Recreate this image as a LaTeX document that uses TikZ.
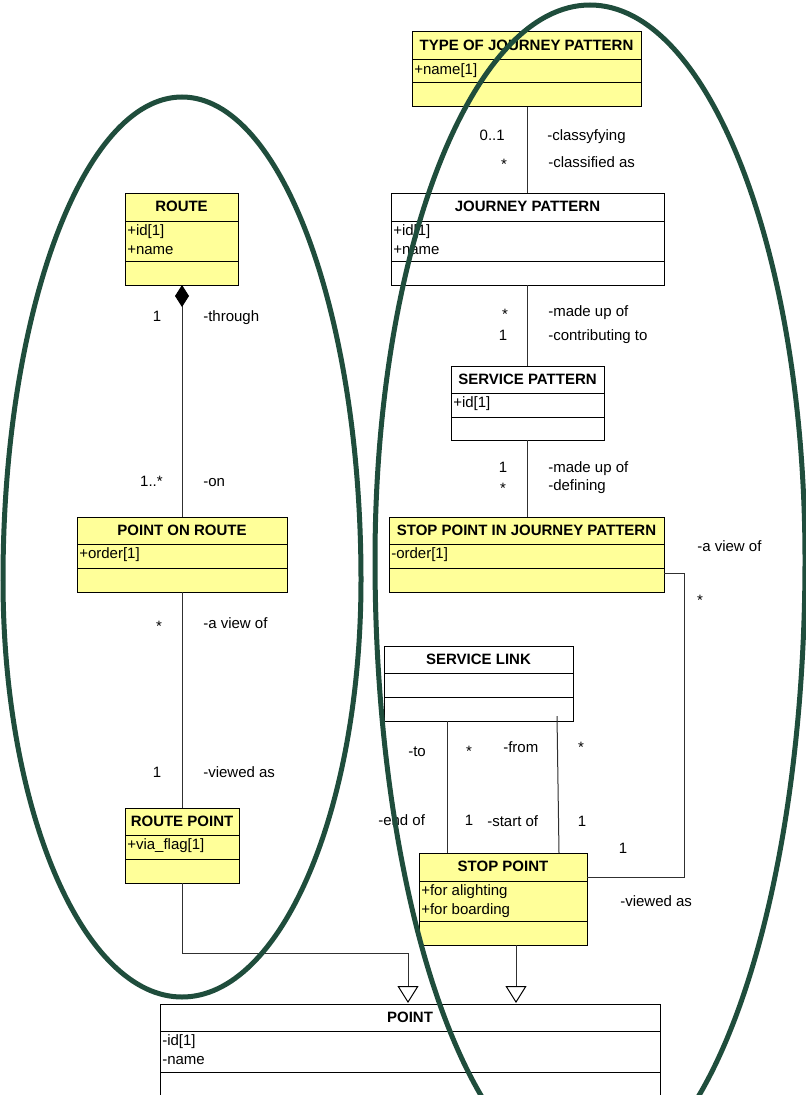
\documentclass[tikz,border=0pt]{standalone}
\usepackage{fontspec}
\setmainfont{Liberation Sans}
\usetikzlibrary{arrows.meta}
\definecolor{umlyellow}{HTML}{FFFF99}
\definecolor{ellgreen}{HTML}{1F4D3C}
\definecolor{linegray}{HTML}{303030}
\tikzset{
  clsbox/.style={draw=black, line width=0.75pt, inner sep=0pt, outer sep=0pt, anchor=north west},
  clsline/.style={draw=black, line width=0.75pt},
  clstitle/.style={font=\fontsize{11.25}{13.5}\selectfont\bfseries, inner sep=0pt, anchor=base},
  clsattr/.style={font=\fontsize{11.25}{13.5}\selectfont, inner sep=0pt, anchor=base west},
  lbl/.style={font=\fontsize{11.25}{13.5}\selectfont, inner sep=0pt, text height=8.2pt, text depth=2.4pt},
  conn/.style={draw=linegray, line width=0.75pt},
  gentip/.style={-{Triangle[open, length=12.75pt, width=15.75pt, color=black]}},
  comptip/.style={{Diamond[length=16.5pt, width=10.5pt, color=black]}-},
  blob/.style={draw=ellgreen, line width=3.75pt}
}
% #1 name, #2 x1, #3 y1, #4 x2, #5 y2, #6 header line y, #7 attribute line y, #8 fill, #9 title
\newcommand{\umlclass}[9]{%
  \node[clsbox, fill=#8, minimum width={(#4-#2)*0.75pt}, minimum height={(#5-#3)*0.75pt}] (#1) at (#2,#3) {};
  \draw[clsline] (#2,#6) -- (#4,#6) (#2,#7) -- (#4,#7);
  \node[clstitle] (#1-title) at ({(#2+#4)/2},{(#3+#6)/2+4.5}) {#9};
}
\newcommand{\umlattr}[4]{\node[clsattr] (#1) at (#2,#3) {#4};}
\begin{document}
\begin{tikzpicture}[x=0.75pt, y=-0.75pt]
\useasboundingbox (0,0) rectangle (806,1095);
\clip (0,0) rectangle (806,1095);
\fill[white] (0,0) rectangle (806,1095);

% classes
\umlclass{tjp}{412}{32}{641}{107}{60}{83}{umlyellow}{TYPE OF JOURNEY PATTERN}
\umlattr{tjp-a1}{414}{74.5}{+name[1]}

\umlclass{jp}{391}{193}{664}{285}{221}{261}{white}{JOURNEY PATTERN}
\umlattr{jp-a1}{393}{235.5}{+id[1]}
\umlattr{jp-a2}{393}{254}{+name}

\umlclass{route}{125}{193}{238}{285}{221}{261}{umlyellow}{ROUTE}
\umlattr{route-a1}{127}{235.5}{+id[1]}
\umlattr{route-a2}{127}{254}{+name}

\umlclass{sp}{451}{366}{604}{440}{393}{417}{white}{SERVICE PATTERN}
\umlattr{sp-a1}{453}{407.5}{+id[1]}

\umlclass{por}{77}{517}{287}{592}{544}{568}{umlyellow}{POINT ON ROUTE}
\umlattr{por-a1}{79}{558.5}{+order[1]}

\umlclass{spijp}{389}{517}{664}{592}{544}{568}{umlyellow}{STOP POINT IN JOURNEY PATTERN}
\umlattr{spijp-a1}{391}{558.5}{-order[1]}

\umlclass{sl}{384}{646}{573}{721}{673}{697}{white}{SERVICE LINK}

\umlclass{rp}{125}{808}{239}{883}{835}{859}{umlyellow}{ROUTE POINT}
\umlattr{rp-a1}{127}{849.5}{+via\_flag[1]}

\umlclass{stp}{419}{853}{587}{945}{881}{921}{umlyellow}{STOP POINT}
\umlattr{stp-a1}{421}{895.5}{+for alighting}
\umlattr{stp-a2}{421}{914}{+for boarding}

\umlclass{point}{160}{1004}{660}{1130}{1031}{1072}{white}{POINT}
\umlattr{point-a1}{162}{1045.5}{-id[1]}
\umlattr{point-a2}{162}{1064}{-name}

% helper coordinates
\coordinate (c527) at (527,0);
\coordinate (c182) at (182,0);
\coordinate (v1) at (684,573);
\coordinate (v2) at (684,877);
\coordinate (sl1) at (447,0);
\coordinate (sl2) at (557,716);
\coordinate (sl3) at (559,0);
\coordinate (rpbend) at (182,953);
\coordinate (g1) at (408,1003);
\coordinate (g2) at (516,1003);

% connectors
\draw[conn] (tjp.south -| c527) -- (jp.north -| c527);
\draw[conn] (jp.south -| c527) -- (sp.north -| c527);
\draw[conn] (sp.south -| c527) -- (spijp.north -| c527);
\draw[conn, comptip] (route.south -| c182) -- (por.north -| c182);
\draw[conn] (por.south -| c182) -- (rp.north -| c182);
\draw[conn] (spijp.east |- v1) -- (v1) -- (v2) -- (stp.east |- v2);
\draw[conn] (sl.south -| sl1) -- (stp.north -| sl1);
\draw[conn] (sl2) -- (stp.north -| sl3);
\draw[conn, gentip] (rp.south -| c182) -- (rpbend) -| (g1);
\draw[conn, gentip] (stp.south -| g2) -- (g2);

% labels
\node[lbl, anchor=east] (l1) at (505,137) {0..1};
\node[lbl, anchor=west] (l2) at (547,137) {-classyfying};
\node[lbl] (l3) at (504,166) {*};
\node[lbl, anchor=west] (l4) at (548,164) {-classified as};

\node[lbl] (l5) at (505,316) {*};
\node[lbl, anchor=west] (l6) at (548,313) {-made up of};
\node[lbl] (l7) at (503,337) {1};
\node[lbl, anchor=west] (l8) at (548,337) {-contributing to};

\node[lbl] (l9) at (503,469) {1};
\node[lbl, anchor=west] (l10) at (548,469) {-made up of};
\node[lbl] (l11) at (503,490) {*};
\node[lbl, anchor=west] (l12) at (548,487) {-defining};

\node[lbl] (l13) at (157,318) {1};
\node[lbl, anchor=west] (l14) at (203,318) {-through};
\node[lbl, anchor=east] (l15) at (163,483) {1..*};
\node[lbl, anchor=west] (l16) at (203,483) {-on};

\node[lbl] (l17) at (159,628) {*};
\node[lbl, anchor=west] (l18) at (203,625) {-a view of};
\node[lbl] (l19) at (157,774) {1};
\node[lbl, anchor=west] (l20) at (203,774) {-viewed as};

\node[lbl, anchor=west] (l21) at (697,548) {-a view of};
\node[lbl] (l22) at (700,602) {*};
\node[lbl] (l23) at (623,850) {1};
\node[lbl, anchor=west] (l24) at (620,903) {-viewed as};

\node[lbl, anchor=west] (l25) at (408,753) {-to};
\node[lbl] (l26) at (469,753) {*};
\node[lbl, anchor=west] (l27) at (503,749) {-from};
\node[lbl] (l28) at (581,749) {*};
\node[lbl, anchor=west] (l29) at (378,822) {-end of};
\node[lbl] (l30) at (469,822) {1};
\node[lbl, anchor=west] (l31) at (487,823) {-start of};
\node[lbl] (l32) at (582,823) {1};

% grouping outlines (upper and lower half-ellipses)
\draw[blob] (3,580) arc[start angle=180, end angle=360, x radius=179, y radius=483]
  arc[start angle=0, end angle=180, x radius=179, y radius=417] -- cycle;
\draw[blob] (375,560) arc[start angle=180, end angle=360, x radius=215, y radius=555]
  arc[start angle=0, end angle=180, x radius=215, y radius=621] -- cycle;
\end{tikzpicture}
\end{document}
